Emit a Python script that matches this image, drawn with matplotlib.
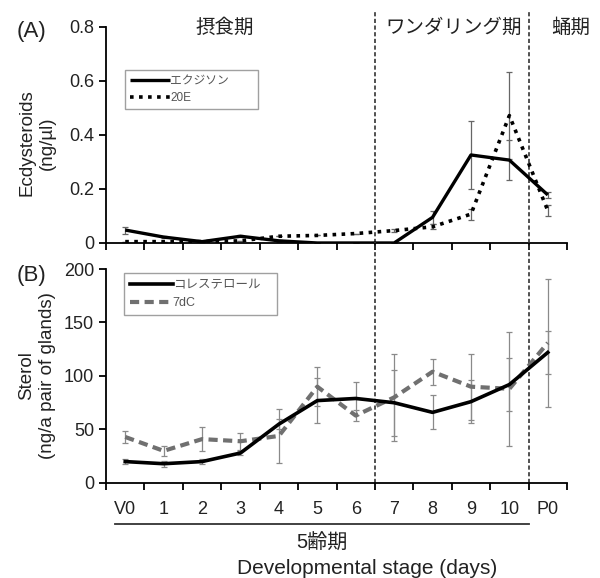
import matplotlib
matplotlib.use("Agg")
import matplotlib.pyplot as plt
from matplotlib.lines import Line2D
import matplotlib.transforms as mtransforms

plt.rcParams['font.family'] = ['Liberation Sans', 'Noto Sans CJK JP', 'DejaVu Sans']

# ---- data ----
stages = ["V0", "1", "2", "3", "4", "5", "6", "7", "8", "9", "10", "P0"]
ecdysone = [0.048, 0.022, 0.005, 0.025, 0.008, 0.0, 0.0, 0.0, 0.095, 0.326, 0.307, 0.178]
ecdysone_err = [0.013, 0.004, 0.003, 0.004, 0.003, 0.0, 0.0, 0.0, 0.025, 0.125, 0.075, 0.01]
e20 = [0.005, 0.005, 0.005, 0.008, 0.025, 0.028, 0.035, 0.046, 0.06, 0.107, 0.472, 0.12]
e20_err = [0.0, 0.0, 0.0, 0.0, 0.0, 0.0, 0.0, 0.005, 0.01, 0.02, 0.16, 0.02]
chol = [20, 18, 20, 28, 55, 77, 79, 75, 66, 76, 92, 122]
chol_err = [2, 3, 2, 2, 5, 21, 15, 31, 16, 20, 25, 20]
dc7 = [43, 30, 41, 39, 44, 90, 63, 80, 104, 90, 88, 131]
dc7_err = [6, 5, 11, 8, 25, 18, 5, 41, 12, 31, 53, 60]
phase_bounds = [6.5, 10.5]
phase_labels = ["摂食期", "ワンダリング期", "蛹期"]
phase_label_x = [2.6, 8.55, 11.6]

x = list(range(len(stages)))

fig = plt.figure(figsize=(6.0, 5.78), dpi=100)
axA = fig.add_axes([0.1767, 0.5796, 0.7683, 0.3737])
axB = fig.add_axes([0.1767, 0.1644, 0.7683, 0.3702])

tick_fs = 13
err_col = '#8a8a8a'

# ---- Panel A ----
axA.errorbar(x, ecdysone, yerr=ecdysone_err, fmt='none', ecolor='#666666', elinewidth=0.9, capsize=2.5, capthick=0.9, zorder=2)
axA.errorbar(x, e20, yerr=e20_err, fmt='none', ecolor='#666666', elinewidth=0.9, capsize=2.5, capthick=0.9, zorder=2)
axA.plot(x, ecdysone, color='black', lw=2.4, label='エクジソン', zorder=3, solid_capstyle='butt')
axA.plot(x, e20, color='black', lw=2.6, ls=(0, (1, 1.5)), label='20E', zorder=3)
axA.set_ylim(0, 0.8)
axA.set_yticks([0, 0.2, 0.4, 0.6, 0.8])
axA.set_yticklabels(["0", "0.2", "0.4", "0.6", "0.8"])

# ---- Panel B ----
axB.errorbar(x, chol, yerr=chol_err, fmt='none', ecolor=err_col, elinewidth=0.9, capsize=2.5, capthick=0.9, zorder=2)
axB.errorbar(x, dc7, yerr=dc7_err, fmt='none', ecolor=err_col, elinewidth=0.9, capsize=2.5, capthick=0.9, zorder=2)
axB.plot(x, chol, color='black', lw=2.6, label='コレステロール', zorder=4)
axB.plot(x, dc7, color='#707070', lw=3.0, ls=(0, (2.2, 1.3)), label='7dC', zorder=3)
axB.set_ylim(0, 200)
axB.set_yticks([0, 50, 100, 150, 200])

for ax in (axA, axB):
    ax.set_xlim(-0.5, len(stages) - 0.5)
    ax.set_xticks([i - 0.5 for i in range(len(stages) + 1)])
    ax.set_xticklabels([])
    ax.set_xticks(x, minor=True)
    ax.tick_params(axis='x', which='minor', length=0)
    ax.tick_params(axis='both', which='major', direction='out', length=5, width=1.3, labelsize=tick_fs, colors='black', labelcolor='#222222')
    ax.spines['top'].set_visible(False)
    ax.spines['right'].set_visible(False)
    ax.spines['left'].set_linewidth(1.3)
    ax.spines['bottom'].set_linewidth(1.3)
    for b in phase_bounds:
        ax.axvline(b, color='#333333', lw=1.2, ls=(0, (2.5, 1.5)), zorder=1,
                   ymin=0, ymax=(1.08 if ax is axA else 1.125), clip_on=False)

axB.set_xticklabels(stages, minor=True)
axB.tick_params(axis='x', which='minor', labelsize=tick_fs, pad=13, labelcolor='#222222')

# legends
legA = axA.legend(loc='upper left', bbox_to_anchor=(0.041, 0.60, 0.2885, 0.20), mode='expand',
                  borderaxespad=0, fontsize=8.5,
                  frameon=True, fancybox=False, edgecolor='#888888', handlelength=3.4, handletextpad=0.0,
                  borderpad=0.45, labelspacing=0.35)
legA.get_frame().set_linewidth(1.0)
for t in legA.get_texts():
    t.set_color('#555555')
legB = axB.legend(loc='upper left', bbox_to_anchor=(0.039, 0.78, 0.332, 0.201), mode='expand',
                  borderaxespad=0, fontsize=9,
                  frameon=True, fancybox=False, edgecolor='#888888', handlelength=3.4, handletextpad=0.0,
                  borderpad=0.5, labelspacing=0.45)
legB.get_frame().set_linewidth(1.0)
for t in legB.get_texts():
    t.set_color('#555555')

# phase labels
for lab, px in zip(phase_labels, phase_label_x):
    axA.text(px, 0.995, lab, transform=mtransforms.blended_transform_factory(axA.transData, axA.transAxes),
             ha='center', va='center', fontsize=14, color='#222222', clip_on=False)

# panel labels
fig.text(32 / 600, 1 - 31 / 578, "(A)", ha='center', va='center', fontsize=16, color='#222222')
fig.text(32 / 600, 1 - 275 / 578, "(B)", ha='center', va='center', fontsize=16, color='#222222')

# y labels
fig.text(37 / 600, 1 - 143 / 578, "Ecdysteroids\n(ng/µl)", rotation=90, ha='center', va='center',
         fontsize=13.5, color='#222222', linespacing=1.25, multialignment='center')
fig.text(37 / 600, 1 - 376 / 578, "Sterol\n(ng/a pair of glands)", rotation=90, ha='center', va='center',
         fontsize=13.5, color='#222222', linespacing=1.25, multialignment='center')

# 5th instar bracket and x label
trB = mtransforms.blended_transform_factory(axB.transData, axB.transAxes)
axB.add_line(Line2D([-0.27, phase_bounds[1]], [-0.19, -0.19], transform=trB, color='#333333', lw=1.3, clip_on=False))
axB.text((-0.27 + phase_bounds[1]) / 2, -0.28, "5齢期", transform=trB, ha='center', va='center', fontsize=14.5, color='#222222')
axB.text(6.3, -0.40, "Developmental stage (days)", transform=trB, ha='center', va='center', fontsize=15, color='#222222')

fig.savefig("out.png", dpi=100)
